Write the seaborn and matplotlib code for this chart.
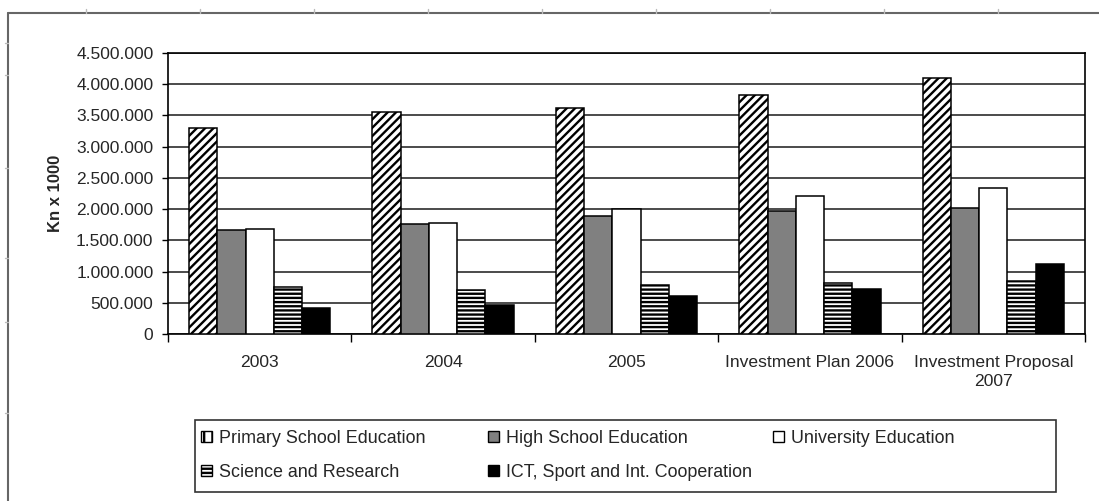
import pandas as pd
import matplotlib
matplotlib.use("Agg")
import matplotlib.pyplot as plt
import matplotlib.patches as mpatches
from matplotlib.lines import Line2D
from matplotlib.ticker import FuncFormatter, FixedLocator
import seaborn as sns

# data
years = ["2003", "2004", "2005", "Investment Plan 2006", "Investment Proposal\n2007"]
categories = ["Primary School Education", "High School Education", "University Education",
              "Science and Research", "ICT, Sport and Int. Cooperation"]
primary = [3300000, 3550000, 3615000, 3830000, 4105000]
high_school = [1670000, 1762000, 1885000, 1970000, 2018000]
university = [1686000, 1783000, 2000000, 2215000, 2333000]
science = [748000, 705000, 785000, 822000, 843000]
ict = [411000, 469000, 614000, 726000, 1121000]

fills = ["white", "#808080", "white", "white", "black"]
hatches = ["////", "", "", "----", ""]
legend_hatches = ["||", "", "", "----", ""]

# long format table for seaborn
rows = []
for cat, vals in zip(categories, [primary, high_school, university, science, ict]):
    for y, v in zip(years, vals):
        rows.append({"Year": y, "Category": cat, "Value": v})
df = pd.DataFrame(rows)

sns.set_style("white")
plt.rcParams["font.family"] = ["Liberation Sans", "DejaVu Sans"]
plt.rcParams["hatch.linewidth"] = 1.7

fig = plt.figure(figsize=(10.99, 5.01), dpi=100)
ax = fig.add_axes([168 / 1099, 1 - 334 / 501, (1085 - 168) / 1099, (334 - 53) / 501])

sns.barplot(data=df, x="Year", y="Value", hue="Category", palette=fills,
            width=0.77, edgecolor="black", linewidth=1.1, saturation=1,
            legend=False, ax=ax, zorder=3)

for cont, h in zip(ax.containers, hatches):
    for bar in cont:
        bar.set_hatch(h)

ax.set_ylim(0, 4500000)
ax.set_xlim(-0.5, len(years) - 0.5)
ax.yaxis.set_major_locator(FixedLocator(range(0, 4500001, 500000)))
ax.yaxis.set_major_formatter(FuncFormatter(lambda v, p: f"{int(v):,}".replace(",", ".")))
ax.grid(axis="y", color="#1a1a1a", linewidth=1.1, zorder=0)
ax.set_axisbelow(True)
for s in ax.spines.values():
    s.set_visible(True)
    s.set_color("black")
    s.set_linewidth(1.2)

ax.set_xlabel("")
ax.set_ylabel("Kn x 1000", fontsize=12, fontweight="bold")
ax.yaxis.set_label_coords(-0.114, 0.5)

ax.tick_params(axis="y", which="major", length=4.5, width=1, color="black",
               labelsize=12.5, pad=6, left=True)
ax.tick_params(axis="x", which="major", length=0, labelsize=12.6, pad=15)
ax.set_xticks(range(len(years)))
ax.set_xticklabels(years, ha="center", linespacing=1.35)
ax.set_xticks([i - 0.5 for i in range(len(years) + 1)], minor=True)
ax.tick_params(axis="x", which="minor", length=6, width=1, color="black", bottom=True)

# legend: three columns inside one box
handles = [mpatches.Patch(facecolor=f, edgecolor="black", hatch=h, linewidth=1)
           for f, h in zip(fills, legend_hatches)]
col_items = [[0, 3], [1, 4], [2]]
col_x = [201, 488, 773]
for xs, items in zip(col_x, col_items):
    fig.legend([handles[i] for i in items], [categories[i] for i in items],
               loc="upper left", bbox_to_anchor=(xs / 1099, 1 - 430 / 501),
               frameon=False, fontsize=12.9, borderpad=0, borderaxespad=0,
               handlelength=0.6, handleheight=0.6, handletextpad=0.4,
               labelspacing=0.95)
fig.add_artist(mpatches.Rectangle((195 / 1099, 1 - 492 / 501), (1056 - 195) / 1099, 72 / 501,
                                  transform=fig.transFigure, fill=False,
                                  edgecolor="#333333", linewidth=1.2))

# page border with ruler ticks
fig.add_artist(Line2D([8 / 1099, 1], [1 - 13 / 501, 1 - 13 / 501],
                      transform=fig.transFigure, color="#666666", linewidth=1.5))
fig.add_artist(Line2D([8 / 1099, 8 / 1099], [0, 1 - 13 / 501],
                      transform=fig.transFigure, color="#666666", linewidth=1.5))
for tx in [86, 200, 314, 428, 542, 656, 770, 884, 998]:
    fig.add_artist(Line2D([tx / 1099, tx / 1099], [1 - 9 / 501, 1 - 13 / 501],
                          transform=fig.transFigure, color="#bbbbbb", linewidth=1))
for ty in [43, 75, 168, 258, 322, 413]:
    fig.add_artist(Line2D([5 / 1099, 8 / 1099], [1 - ty / 501, 1 - ty / 501],
                          transform=fig.transFigure, color="#bbbbbb", linewidth=1))

fig.savefig("out.png", dpi=100)
plt.close()
